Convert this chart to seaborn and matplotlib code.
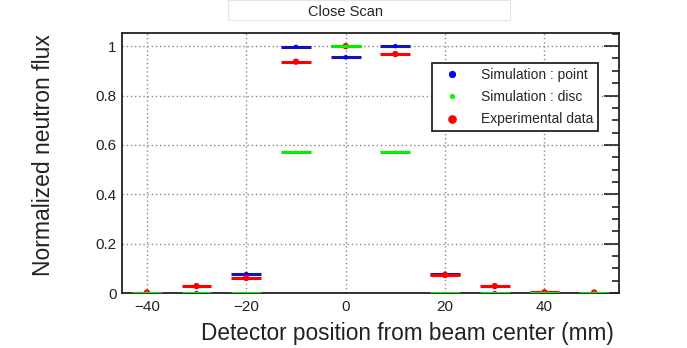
import numpy as np
import pandas as pd
import matplotlib
matplotlib.use("Agg")
import matplotlib.pyplot as plt
import seaborn as sns
from matplotlib.ticker import MultipleLocator, FuncFormatter
from matplotlib.patches import Rectangle
from matplotlib.lines import Line2D

positions = [-40, -30, -20, -10, 0, 10, 20, 30, 40, 50]
sim_point = [0.0, 0.0, 0.077, 0.997, 0.955, 1.0, 0.078, 0.0, 0.0, 0.0]
sim_disc = [0.0, 0.0, 0.0, 0.572, 1.0, 0.572, 0.0, 0.0, 0.0, 0.0]
experimental = [0.002, 0.028, 0.061, 0.937, 1.0, 0.968, 0.073, 0.028, 0.003, 0.002]
half_width = 3.0

series_names = ["Simulation : point", "Simulation : disc", "Experimental data"]

df = pd.DataFrame({
    "x": positions * 3,
    "y": sim_point + sim_disc + experimental,
    "series": np.repeat(series_names, len(positions)),
})

sns.set_style("white")
plt.rcParams["font.family"] = ["Liberation Sans", "DejaVu Sans"]

fig = plt.figure(figsize=(6.87, 3.48), dpi=100)
ax = fig.add_axes([0.1776, 0.158, 0.7234, 0.747])

styles = {
    "Simulation : point": dict(line="#1414b4", marker="#0000ff", ms=3.2, z=3),
    "Experimental data": dict(line="#ff0000", marker="#ff0000", ms=4.6, z=4),
    "Simulation : disc": dict(line="#00ee00", marker="#00ff00", ms=2.2, z=5),
}

for name in ["Simulation : point", "Experimental data", "Simulation : disc"]:
    sub = df[df["series"] == name]
    st = styles[name]
    ax.hlines(sub["y"], sub["x"] - half_width, sub["x"] + half_width,
              colors=st["line"], linewidth=2.2, zorder=st["z"])
    sns.scatterplot(data=sub, x="x", y="y", ax=ax, color=st["marker"],
                    s=st["ms"] ** 2, edgecolor="none", zorder=st["z"] + 0.5,
                    legend=False)

ax.set_xlim(-45, 55)
ax.set_ylim(0, 1.053)

ax.xaxis.set_major_locator(MultipleLocator(20))
ax.xaxis.set_minor_locator(MultipleLocator(5))
ax.yaxis.set_major_locator(MultipleLocator(0.2))
ax.yaxis.set_minor_locator(MultipleLocator(0.05))
ax.yaxis.set_major_formatter(FuncFormatter(lambda v, p: f"{v:g}"))

ax.tick_params(which="both", direction="in", right=True,
               colors="#222222", labelsize=11, width=1.2)
ax.tick_params(axis="y", which="major", length=11, pad=4)
ax.tick_params(axis="y", which="minor", length=5)
ax.tick_params(axis="x", which="major", length=6, pad=5)
ax.tick_params(axis="x", which="minor", length=3)

ax.grid(True, which="major", linestyle=(0, (1, 2)), color="#888888", linewidth=1.0)
for sp in ax.spines.values():
    sp.set_color("#222222")
    sp.set_linewidth(1.3)

ax.set_xlabel("Detector position from beam center (mm)", fontsize=16.3,
              color="#222222")
ax.xaxis.set_label_coords(0.574, -0.112)
ax.set_ylabel("Normalized neutron flux", fontsize=16.5, color="#222222",
              va="center")
ax.yaxis.set_label_coords(-0.157, 0.53)
ax.set_facecolor("white")

# Legend
handles = [
    Line2D([], [], linestyle="none", marker="o", color="#0000ff", markersize=4.2),
    Line2D([], [], linestyle="none", marker="o", color="#00ff00", markersize=2.8),
    Line2D([], [], linestyle="none", marker="o", color="#ff0000", markersize=5.2),
]
leg = ax.legend(handles, series_names, loc="upper right",
                bbox_to_anchor=(0.958, 0.885), fontsize=10,
                frameon=True, fancybox=False, framealpha=1,
                edgecolor="#222222", borderpad=0.35, labelspacing=0.6,
                handletextpad=1.0, handlelength=2.2, borderaxespad=0)
leg.get_frame().set_linewidth(1.3)

# Title box
fig.patches.append(Rectangle((228 / 687, 1 - 20 / 348), (510 - 228) / 687, 20 / 348,
                             transform=fig.transFigure, facecolor="white",
                             edgecolor="#e4e4e4", linewidth=0.8))
fig.text(346 / 687, 1 - 12 / 348, "Close Scan", ha="center", va="center",
         fontsize=10.5, color="#222222")

fig.savefig("out.png", dpi=100, facecolor="white")
